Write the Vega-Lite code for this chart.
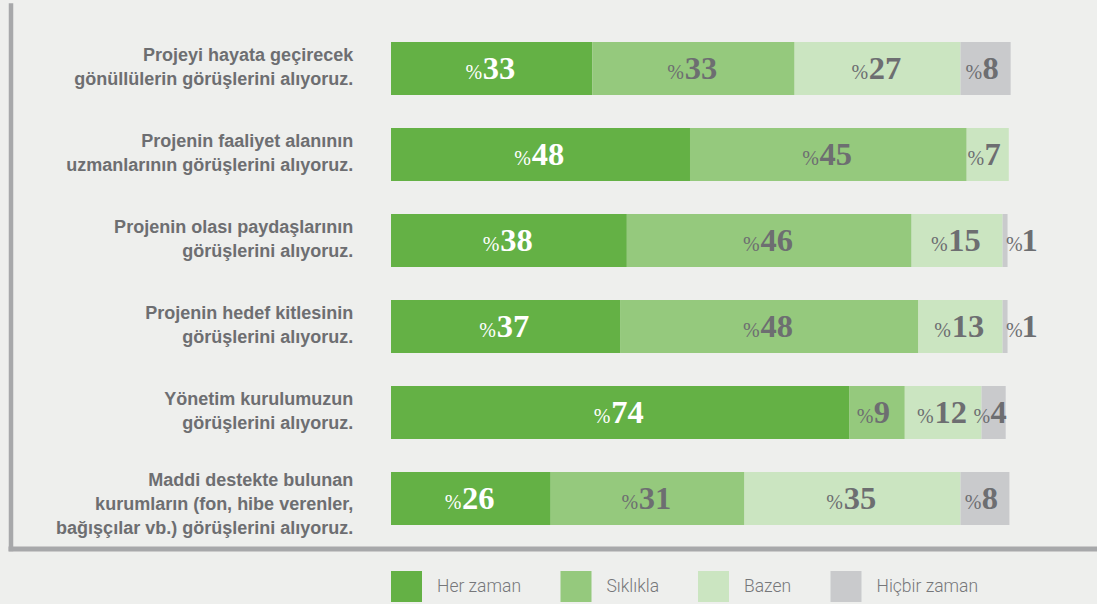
{
  "$schema": "https://vega.github.io/schema/vega-lite/v6.json",
  "width": 1086.5,
  "height": 543.5,
  "autosize": {"type": "none"},
  "padding": {"left": 10.5, "top": 5, "right": 0, "bottom": 55.5},
  "background": "#eeefed",
  "data": {
    "values": [
      {"q": "Projeyi hayata geçirecek|gönüllülerin görüşlerini alıyoruz.", "cat": "Her zaman", "k": 1, "v": 32.5, "p": 33},
      {"q": "Projeyi hayata geçirecek|gönüllülerin görüşlerini alıyoruz.", "cat": "Sıklıkla", "k": 2, "v": 32.7, "p": 33},
      {"q": "Projeyi hayata geçirecek|gönüllülerin görüşlerini alıyoruz.", "cat": "Bazen", "k": 3, "v": 26.8, "p": 27},
      {"q": "Projeyi hayata geçirecek|gönüllülerin görüşlerini alıyoruz.", "cat": "Hiçbir zaman", "k": 4, "v": 8.1, "p": 8},
      {"q": "Projenin faaliyet alanının|uzmanlarının görüşlerini alıyoruz.", "cat": "Her zaman", "k": 1, "v": 48.3, "p": 48},
      {"q": "Projenin faaliyet alanının|uzmanlarının görüşlerini alıyoruz.", "cat": "Sıklıkla", "k": 2, "v": 44.7, "p": 45},
      {"q": "Projenin faaliyet alanının|uzmanlarının görüşlerini alıyoruz.", "cat": "Bazen", "k": 3, "v": 6.8, "p": 7},
      {"q": "Projenin olası paydaşlarının|görüşlerini alıyoruz.", "cat": "Her zaman", "k": 1, "v": 38.1, "p": 38},
      {"q": "Projenin olası paydaşlarının|görüşlerini alıyoruz.", "cat": "Sıklıkla", "k": 2, "v": 46.0, "p": 46},
      {"q": "Projenin olası paydaşlarının|görüşlerini alıyoruz.", "cat": "Bazen", "k": 3, "v": 14.7, "p": 15},
      {"q": "Projenin olası paydaşlarının|görüşlerini alıyoruz.", "cat": "Hiçbir zaman", "k": 4, "v": 0.8, "p": 1},
      {"q": "Projenin hedef kitlesinin|görüşlerini alıyoruz.", "cat": "Her zaman", "k": 1, "v": 37.0, "p": 37},
      {"q": "Projenin hedef kitlesinin|görüşlerini alıyoruz.", "cat": "Sıklıkla", "k": 2, "v": 48.2, "p": 48},
      {"q": "Projenin hedef kitlesinin|görüşlerini alıyoruz.", "cat": "Bazen", "k": 3, "v": 13.6, "p": 13},
      {"q": "Projenin hedef kitlesinin|görüşlerini alıyoruz.", "cat": "Hiçbir zaman", "k": 4, "v": 0.8, "p": 1},
      {"q": "Yönetim kurulumuzun|görüşlerini alıyoruz.", "cat": "Her zaman", "k": 1, "v": 74.0, "p": 74},
      {"q": "Yönetim kurulumuzun|görüşlerini alıyoruz.", "cat": "Sıklıkla", "k": 2, "v": 9.0, "p": 9},
      {"q": "Yönetim kurulumuzun|görüşlerini alıyoruz.", "cat": "Bazen", "k": 3, "v": 12.4, "p": 12},
      {"q": "Yönetim kurulumuzun|görüşlerini alıyoruz.", "cat": "Hiçbir zaman", "k": 4, "v": 3.9, "p": 4},
      {"q": "Maddi destekte bulunan|kurumların (fon, hibe verenler,|bağışçılar vb.)  görüşlerini alıyoruz.", "cat": "Her zaman", "k": 1, "v": 25.8, "p": 26},
      {"q": "Maddi destekte bulunan|kurumların (fon, hibe verenler,|bağışçılar vb.)  görüşlerini alıyoruz.", "cat": "Sıklıkla", "k": 2, "v": 31.3, "p": 31},
      {"q": "Maddi destekte bulunan|kurumların (fon, hibe verenler,|bağışçılar vb.)  görüşlerini alıyoruz.", "cat": "Bazen", "k": 3, "v": 34.9, "p": 35},
      {"q": "Maddi destekte bulunan|kurumların (fon, hibe verenler,|bağışçılar vb.)  görüşlerini alıyoruz.", "cat": "Hiçbir zaman", "k": 4, "v": 7.9, "p": 8}
    ]
  },
  "transform": [
    {"stack": "v", "groupby": ["q"], "sort": [{"field": "k", "order": "ascending"}], "as": ["x0", "x1"]}
  ],
  "encoding": {
    "y": {
      "field": "q",
      "type": "nominal",
      "sort": null,
      "scale": {"paddingInner": 0.3837, "paddingOuter": 0.352, "align": 0.6116},
      "axis": {
        "title": null,
        "labelExpr": "split(datum.label, '|')",
        "labelOffset": {"condition": {"test": "indexof(datum.value, 'Maddi') == 0", "value": -17.5}, "value": -12.5}
      }
    }
  },
  "layer": [
    {
      "mark": {"type": "bar"},
      "encoding": {
        "x": {"field": "x0", "type": "quantitative", "title": null, "scale": {"domain": [-61.47, 114.05], "nice": false, "zero": false}},
        "x2": {"field": "x1"},
        "color": {
          "field": "cat",
          "type": "nominal",
          "scale": {"domain": ["Her zaman", "Sıklıkla", "Bazen", "Hiçbir zaman"], "range": ["#64b145", "#95c97d", "#cbe5c1", "#c9cacc"]},
          "legend": {
            "title": null,
            "orient": "none",
            "legendX": 380.5,
            "legendY": 566,
            "direction": "horizontal",
            "symbolType": "square",
            "symbolSize": 961,
            "symbolStrokeWidth": 0,
            "labelFont": "Roboto",
            "labelFontSize": 17.5,
            "labelFontWeight": 300,
            "labelColor": "#76777a",
            "labelOffset": 15,
            "columnPadding": 38.5,
            "padding": 0
          }
        }
      }
    },
    {
      "transform": [{"filter": "datum.v >= 2 && datum.p >= 10"}, {"fold": ["x0", "x1"], "as": ["edge", "pos"]}],
      "mark": {"type": "text", "font": "Liberation Serif", "fontWeight": "bold", "fontSize": 32.5, "align": "center", "baseline": "alphabetic", "dx": 7.5, "dy": 10.5},
      "encoding": {
        "x": {"aggregate": "mean", "field": "pos", "type": "quantitative", "title": null, "scale": {"domain": [-61.47, 114.05], "nice": false, "zero": false}},
        "text": {"field": "p", "type": "nominal"},
        "detail": {"field": "k", "type": "nominal"},
        "color": {"condition": {"test": "datum.k == 1", "value": "#ffffff"}, "value": "#6d6e71"}
      }
    },
    {
      "transform": [{"filter": "datum.v >= 2 && datum.p >= 10"}, {"fold": ["x0", "x1"], "as": ["edge", "pos"]}],
      "mark": {"type": "text", "font": "Liberation Serif", "fontSize": 20, "align": "right", "baseline": "alphabetic", "dx": -9.5, "dy": 10.5},
      "encoding": {
        "x": {"aggregate": "mean", "field": "pos", "type": "quantitative", "title": null, "scale": {"domain": [-61.47, 114.05], "nice": false, "zero": false}},
        "text": {"value": "%"},
        "detail": {"field": "k", "type": "nominal"},
        "color": {"condition": {"test": "datum.k == 1", "value": "#ffffff"}, "value": "#6d6e71"}
      }
    },
    {
      "transform": [{"filter": "datum.v >= 2 && datum.p < 10"}, {"fold": ["x0", "x1"], "as": ["edge", "pos"]}],
      "mark": {"type": "text", "font": "Liberation Serif", "fontWeight": "bold", "fontSize": 32.5, "align": "center", "baseline": "alphabetic", "dx": 5, "dy": 10.5},
      "encoding": {
        "x": {"aggregate": "mean", "field": "pos", "type": "quantitative", "title": null, "scale": {"domain": [-61.47, 114.05], "nice": false, "zero": false}},
        "text": {"field": "p", "type": "nominal"},
        "detail": {"field": "k", "type": "nominal"},
        "color": {"condition": {"test": "datum.k == 1", "value": "#ffffff"}, "value": "#6d6e71"}
      }
    },
    {
      "transform": [{"filter": "datum.v >= 2 && datum.p < 10"}, {"fold": ["x0", "x1"], "as": ["edge", "pos"]}],
      "mark": {"type": "text", "font": "Liberation Serif", "fontSize": 20, "align": "right", "baseline": "alphabetic", "dx": -3.5, "dy": 10.5},
      "encoding": {
        "x": {"aggregate": "mean", "field": "pos", "type": "quantitative", "title": null, "scale": {"domain": [-61.47, 114.05], "nice": false, "zero": false}},
        "text": {"value": "%"},
        "detail": {"field": "k", "type": "nominal"},
        "color": {"condition": {"test": "datum.k == 1", "value": "#ffffff"}, "value": "#6d6e71"}
      }
    },
    {
      "transform": [{"filter": "datum.v < 2"}],
      "mark": {"type": "text", "font": "Liberation Serif", "fontSize": 20, "align": "left", "baseline": "alphabetic", "dx": -1.5, "dy": 10.5, "color": "#6d6e71"},
      "encoding": {
        "x": {"field": "x1", "type": "quantitative", "title": null, "scale": {"domain": [-61.47, 114.05], "nice": false, "zero": false}},
        "text": {"value": "%"}
      }
    },
    {
      "transform": [{"filter": "datum.v < 2"}],
      "mark": {"type": "text", "font": "Liberation Serif", "fontWeight": "bold", "fontSize": 32.5, "align": "left", "baseline": "alphabetic", "dx": 14, "dy": 10.5, "color": "#6d6e71"},
      "encoding": {
        "x": {"field": "x1", "type": "quantitative", "title": null, "scale": {"domain": [-61.47, 114.05], "nice": false, "zero": false}},
        "text": {"field": "p", "type": "nominal"}
      }
    }
  ],
  "config": {
    "view": {"stroke": null},
    "axisX": {"domain": true, "domainColor": "#a7a8aa", "domainWidth": 5, "domainCap": "square", "ticks": false, "tickSize": 0, "labels": false, "grid": false},
    "axisY": {"domain": true, "domainColor": "#a7a8aa", "domainWidth": 4.5, "domainCap": "square", "ticks": false, "tickSize": 0, "grid": false, "labelPadding": -342.2, "labelAlign": "right", "labelBaseline": "middle", "labelFont": "Liberation Sans", "labelFontSize": 18, "labelFontWeight": "bold", "labelColor": "#6d6e71", "labelLineHeight": 24, "labelLimit": 0}
  }
}
